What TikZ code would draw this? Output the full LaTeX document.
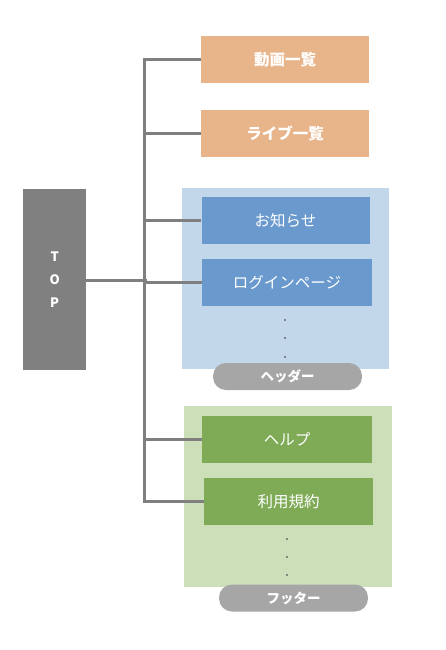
\documentclass[tikz,border=0pt]{standalone}
\usepackage{fontspec}
\setmainfont{Noto Sans CJK JP}
\definecolor{topgray}{HTML}{808080}
\definecolor{linegray}{HTML}{7F7F7F}
\definecolor{orangebox}{HTML}{E8B48A}
\definecolor{bluebg}{HTML}{C3D7EB}
\definecolor{bluebox}{HTML}{6A99CE}
\definecolor{greenbg}{HTML}{CCDFB9}
\definecolor{greenbox}{HTML}{7FAB57}
\definecolor{pillgray}{HTML}{A6A6A6}
\begin{document}
\begin{tikzpicture}[x=1pt,y=-1pt,
  box/.style={minimum width=168pt,minimum height=47pt,inner sep=0pt,text=white,font=\fontsize{15.5}{18}\selectfont},
  obox/.style={box,fill=orangebox,font=\fontsize{15.5}{18}\selectfont\bfseries},
  bbox/.style={box,fill=bluebox},
  gbox/.style={box,fill=greenbox},
  pill/.style={fill=pillgray,rounded corners=13pt,minimum width=149pt,minimum height=27pt,inner sep=0pt,text=white,font=\fontsize{13.5}{16}\selectfont\bfseries},
  conn/.style={draw=linegray,line width=3pt},
  dotn/.style={circle,fill=black!80,inner sep=0pt,minimum size=1.6pt}]
\useasboundingbox (0,0) rectangle (446,650);
% backgrounds
\fill[bluebg] (182,188) rectangle (389,369);
\fill[greenbg] (184,406) rectangle (392,587);
% TOP
\node[fill=topgray,minimum width=63pt,minimum height=181pt,inner sep=0pt,anchor=north west,text=white,font=\fontsize{13}{15}\selectfont\bfseries,align=center] (top) at (23,189) {T\\[8pt]O\\[8pt]P};
% boxes
\node[obox] (a) at (285,59.5) {動画一覧};
\node[obox] (b) at (285,133.5) {ライブ一覧};
\node[bbox] (c) at (285.5,220.5) {お知らせ};
\node[bbox,minimum width=170pt] (d) at (287,282.5) {ログインページ};
\node[gbox,minimum width=170pt] (e) at (287,439.5) {ヘルプ};
\node[gbox,minimum width=169pt] (f) at (288.5,501.5) {利用規約};
% dots
\node[dotn] (d1) at (285,320) {};
\node[dotn] (d2) at (285,338) {};
\node[dotn] (d3) at (285,357) {};
\node[dotn] (d4) at (287,539) {};
\node[dotn] (d5) at (287,557) {};
\node[dotn] (d6) at (287,575) {};
% pills
\node[pill] (hp) at (287.5,376.5) {ヘッダー};
\node[pill] (fp) at (293.5,598) {フッター};
% connectors
\coordinate (tj) at (145,280);
\draw[conn] (top.east |- tj) -- (147,280);
\draw[conn,line join=miter] (a.west) -- (144,59.5) |- (f.west);
\draw[conn] (144,133.5) -- (b.west);
\draw[conn] (144,220.5) -- (c.west);
\draw[conn] (144,282.5) -- (d.west);
\draw[conn] (144,439.5) -- (e.west);
\end{tikzpicture}
\end{document}
